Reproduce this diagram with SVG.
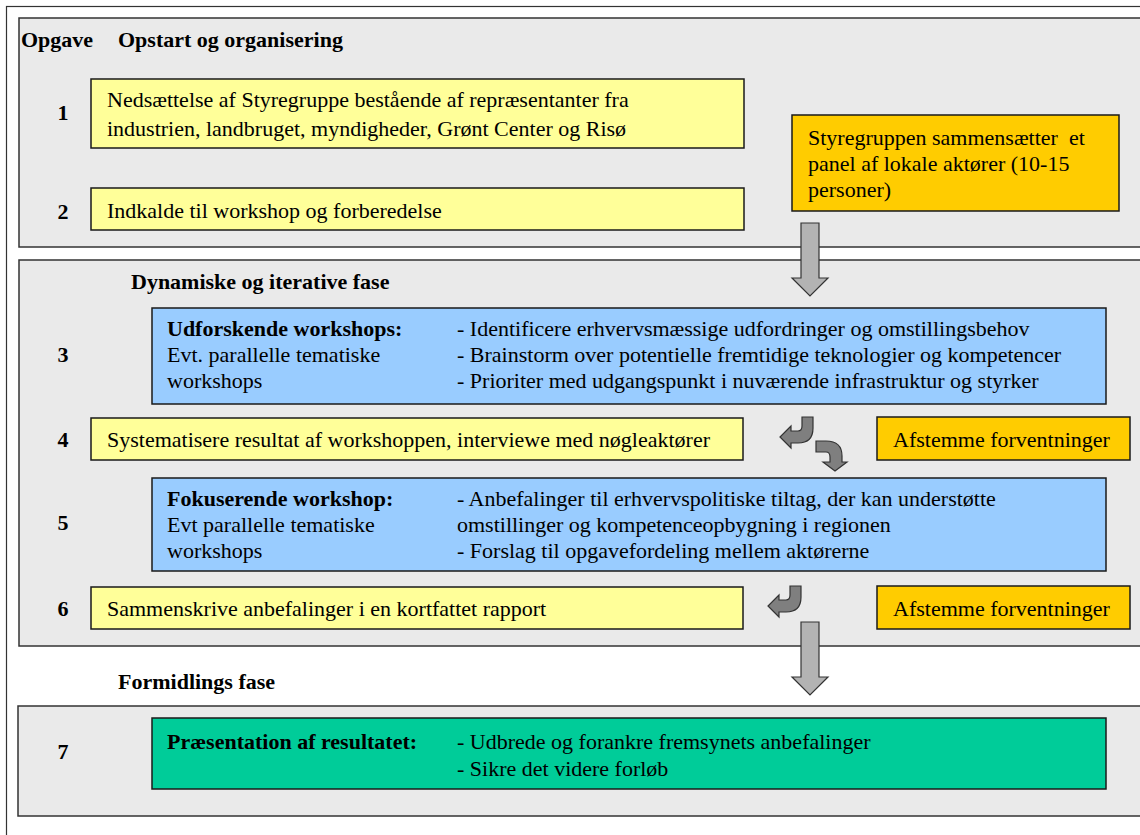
<svg xmlns="http://www.w3.org/2000/svg" width="1140" height="835" viewBox="0 0 1140 835">
<style>
text{font-family:"Liberation Serif","Times New Roman",serif;font-size:22px;fill:#000}
.b{font-weight:bold}
.n{font-weight:bold;text-anchor:middle}
.sec{fill:#eaeaea;stroke:#333;stroke-width:1.5}
.box{stroke:#1a1a1a;stroke-width:1.5}
.y{fill:#ffff99}.o{fill:#ffcc00}.bl{fill:#99ccff}.g{fill:#00cc99}
.down{fill:#b3b3b3;stroke:#333;stroke-width:1.2}
.hook{fill:#7f7f7f;stroke:#333;stroke-width:1.2}
</style>
<rect width="1140" height="835" fill="#fff"/>
<rect x="6.5" y="6.5" width="1150" height="840" fill="none" stroke="#333" stroke-width="1.2"/>
<g id="section1">
<rect class="sec" x="19" y="18" width="1140" height="229"/>
<text class="b" x="21" y="47">Opgave</text>
<text class="b" x="118" y="47">Opstart og organisering</text>
<text class="n" x="63" y="120">1</text>
<text class="n" x="63" y="219">2</text>
</g>
<g id="section2">
<rect class="sec" x="19" y="260" width="1140" height="386"/>
<text class="b" x="131" y="289">Dynamiske og iterative fase</text>
<text class="n" x="63" y="362">3</text>
<text class="n" x="63" y="447">4</text>
<text class="n" x="63" y="530">5</text>
<text class="n" x="63" y="616">6</text>
</g>
<g id="section3">
<text class="b" x="118" y="689">Formidlings fase</text>
<rect class="sec" x="18" y="706" width="1140" height="110"/>
<text class="n" x="63" y="759">7</text>
</g>
<g id="task1">
<rect class="box y" x="91" y="79" width="653" height="69"/>
<text x="107" y="107">Nedsættelse af Styregruppe bestående af repræsentanter fra</text>
<text x="107" y="136">industrien, landbruget, myndigheder, Grønt Center og Risø</text>
</g>
<g id="task2">
<rect class="box y" x="91" y="188" width="653" height="42"/>
<text x="107" y="218">Indkalde til workshop og forberedelse</text>
</g>
<g id="panel">
<rect class="box o" x="792" y="115" width="327" height="96"/>
<text x="808" y="145" xml:space="preserve">Styregruppen sammensætter  et</text>
<text x="808" y="171">panel af lokale aktører (10-15</text>
<text x="808" y="197">personer)</text>
</g>
<g id="task3">
<rect class="box bl" x="152" y="308" width="954" height="96"/>
<text class="b" x="167" y="336">Udforskende workshops:</text>
<text x="167" y="362">Evt. parallelle tematiske</text>
<text x="167" y="388">workshops</text>
<text x="457" y="336">- Identificere erhvervsmæssige udfordringer og omstillingsbehov</text>
<text x="457" y="362">- Brainstorm over potentielle fremtidige teknologier og kompetencer</text>
<text x="457" y="388">- Prioriter med udgangspunkt i nuværende infrastruktur og styrker</text>
</g>
<g id="task4">
<rect class="box y" x="91" y="418" width="652" height="42"/>
<text x="107" y="447">Systematisere resultat af workshoppen, interviewe med nøgleaktører</text>
</g>
<g id="align4">
<rect class="box o" x="877" y="417" width="253" height="43"/>
<text x="893" y="447">Afstemme forventninger</text>
</g>
<g id="task5">
<rect class="box bl" x="152" y="478" width="954" height="93"/>
<text class="b" x="167" y="506">Fokuserende workshop:</text>
<text x="167" y="532">Evt parallelle tematiske</text>
<text x="167" y="558">workshops</text>
<text x="457" y="506">- Anbefalinger til erhvervspolitiske tiltag, der kan understøtte</text>
<text x="457" y="532">omstillinger og kompetenceopbygning i regionen</text>
<text x="457" y="558">- Forslag til opgavefordeling mellem aktørerne</text>
</g>
<g id="task6">
<rect class="box y" x="91" y="587" width="652" height="42"/>
<text x="107" y="616">Sammenskrive anbefalinger i en kortfattet rapport</text>
</g>
<g id="align6">
<rect class="box o" x="877" y="586" width="253" height="43"/>
<text x="893" y="616">Afstemme forventninger</text>
</g>
<g id="task7">
<rect class="box g" x="152" y="718" width="954" height="71"/>
<text class="b" x="167" y="749">Præsentation af resultatet:</text>
<text x="457" y="749">- Udbrede og forankre fremsynets anbefalinger</text>
<text x="457" y="776">- Sikre det videre forløb</text>
</g>
<g id="connectors">
<path class="down" d="M801,223 H819 V278 H828 L810,296 L792,278 H801 Z"/>
<path class="down" d="M801,622 H819 V677 H828 L810,695 L792,677 H801 Z"/>
<path class="hook" d="M802,417 H813 V428 Q813,443 798,443 H791 V448 L780,437 L791,426 V431 H798 Q802,431 802,426 Z"/>
<path class="hook" d="M816,441 H826 Q842,441 842,456 V462 H847 L835,471 L823,462 H830 V457 Q830,452 826,452 H816 Z"/>
<path class="hook" d="M790,586 H801 V597 Q801,612 786,612 H779 V617 L768,606 L779,595 V600 H786 Q790,600 790,595 Z"/>
</g>
</svg>
